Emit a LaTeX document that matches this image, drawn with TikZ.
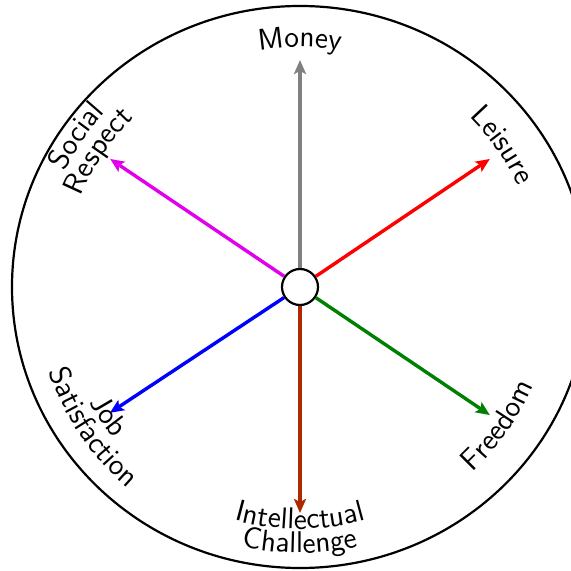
\documentclass[tikz,border=0pt]{standalone}
\usepackage{tikz}
\usetikzlibrary{arrows.meta, decorations.text}
\definecolor{Gris}{RGB}{128,128,128}
\definecolor{Rouge}{RGB}{255,0,0}
\definecolor{Vert}{RGB}{0,128,0}
\definecolor{Brique}{RGB}{175,40,0}
\definecolor{Bleu}{RGB}{0,0,255}
\definecolor{Fuchsia}{RGB}{225,0,235}
\tikzset{fl/.style={-{Stealth[length=7pt, width=6pt, inset=1.5pt]}, line width=1.7pt}}
\tikzset{etiq/.style={decorate, decoration={text along path, text align=center,
  text={|\fontsize{15}{17}\sffamily|#1}}}}

\begin{document}
\begin{tikzpicture}[x=0.5pt, y=0.5pt]
\useasboundingbox (-300,-284) rectangle (270,287);
\draw[line width=1.1pt] (0,0) ellipse[x radius=288, y radius=281];
\node[circle, draw, fill=white, line width=1.1pt, minimum size=18pt, inner sep=0pt] (c) at (0,0) {};
% pointes des fleches
\coordinate (argent) at (90:227);
\coordinate (loisir) at (34:229);
\coordinate (liberte) at (-34:229);
\coordinate (defi) at (270:226);
\coordinate (travail) at (213.5:228);
\coordinate (respect) at (146:229);
\draw[fl, Gris] (c) -- (argent);
\draw[fl, Rouge] (c) -- (loisir);
\draw[fl, Vert] (c) -- (liberte);
\draw[fl, Brique] (c) -- (defi);
\draw[fl, Bleu] (c) -- (travail);
\draw[fl, Fuchsia] (c) -- (respect);
% etiquettes le long du cercle
\path[etiq=Money] (130:240) arc[start angle=130, end angle=50, radius=240];
\path[etiq=Leisure] (75:240) arc[start angle=75, end angle=-5, radius=240];
\path[etiq=Freedom] (-75:253) arc[start angle=-75, end angle=5, radius=253];
\path[etiq=Intellectual] (230:242) arc[start angle=230, end angle=310, radius=242];
\path[etiq=Challenge] (230:266) arc[start angle=230, end angle=310, radius=266];
\path[etiq=Job] (174:240) arc[start angle=174, end angle=254, radius=240];
\path[etiq=Satisfaction] (174:265) arc[start angle=174, end angle=254, radius=265];
\path[etiq=Social] (186:262) arc[start angle=186, end angle=106, radius=262];
\path[etiq=Respect] (186:237) arc[start angle=186, end angle=106, radius=237];
\end{tikzpicture}
\end{document}
